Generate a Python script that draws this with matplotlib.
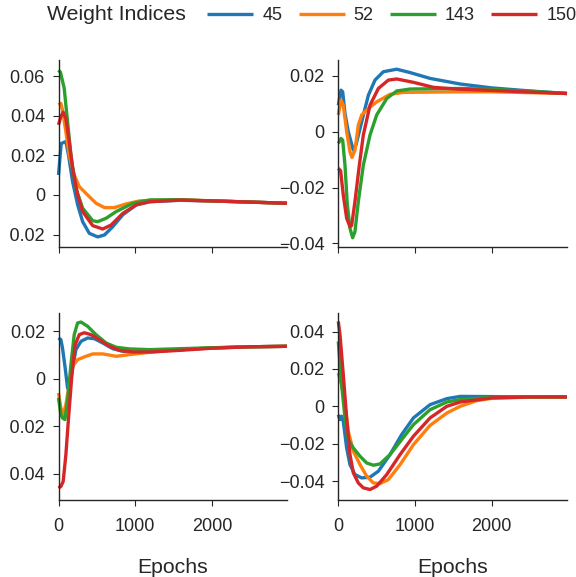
import matplotlib
matplotlib.use("Agg")
import matplotlib.pyplot as plt
from matplotlib.ticker import FixedLocator, FuncFormatter
from matplotlib.transforms import Bbox, TransformedBbox

plt.rcParams['font.family'] = ['Liberation Sans', 'DejaVu Sans']

series_labels = ['45', '52', '143', '150']
colors = ['#1f77b4', '#ff7f0e', '#2ca02c', '#d62728']
legend_title = 'Weight Indices'
x_label = 'Epochs'

# ---------------- top-left panel ----------------
tl_45_x = [0, 35, 96, 131, 184, 250, 315, 402, 511, 600, 708, 839, 1014, 1190, 1580, 2000, 2500, 2980]
tl_45_y = [0.0101, 0.026, 0.027, 0.020, 0.0067, -0.005, -0.0135, -0.0194, -0.0212, -0.0202, -0.016, -0.010,
           -0.005, -0.0034, -0.0027, -0.003, -0.0036, -0.0042]
tl_52_x = [0, 31, 52, 96, 140, 205, 271, 358, 490, 600, 730, 883, 1058, 1580, 2000, 2500, 2980]
tl_52_y = [0.0455, 0.0463, 0.043, 0.032, 0.020, 0.0101, 0.0042, 0.0008, -0.0042, -0.0064, -0.0064, -0.0045,
           -0.003, -0.0025, -0.003, -0.0036, -0.0042]
tl_143_x = [0, 25, 74, 118, 162, 227, 315, 446, 511, 620, 752, 970, 1190, 1580, 2000, 2500, 2980]
tl_143_y = [0.0631, 0.062, 0.054, 0.037, 0.020, 0.0034, -0.0067, -0.013, -0.0135, -0.0118, -0.0084, -0.0042,
            -0.0025, -0.0024, -0.003, -0.0036, -0.0042]
tl_150_x = [0, 31, 61, 96, 140, 184, 250, 315, 446, 577, 686, 839, 1014, 1190, 1580, 2000, 2500, 2980]
tl_150_y = [0.0354, 0.0396, 0.0418, 0.0387, 0.027, 0.0135, 0.0, -0.0084, -0.0155, -0.0172, -0.0152, -0.0093,
            -0.005, -0.0034, -0.0026, -0.003, -0.0036, -0.0042]

# ---------------- top-right panel ----------------
tr_45_x = [0, 35, 57, 87, 130, 196, 230, 305, 392, 478, 587, 761, 935, 1196, 1588, 2000, 2500, 2980]
tr_45_y = [0.0095, 0.0149, 0.0143, 0.0066, 0.0, -0.0066, -0.0048, 0.0036, 0.0131, 0.0185, 0.0215, 0.0224,
           0.0212, 0.0191, 0.0171, 0.0157, 0.0146, 0.0137]
tr_52_x = [0, 35, 65, 109, 152, 178, 217, 261, 305, 370, 500, 674, 848, 1588, 2000, 2500, 2980]
tr_52_y = [0.006, 0.0113, 0.0095, 0.0, -0.0072, -0.0092, -0.0066, 0.0024, 0.006, 0.0078, 0.0107, 0.0134,
           0.0141, 0.0143, 0.0143, 0.014, 0.0137]
tr_143_x = [0, 35, 57, 87, 117, 152, 187, 217, 261, 326, 413, 500, 631, 761, 935, 1588, 2000, 2500, 2980]
tr_143_y = [-0.0042, -0.0024, -0.003, -0.012, -0.026, -0.0346, -0.038, -0.0358, -0.025, -0.012, -0.0012,
            0.006, 0.0119, 0.0146, 0.0153, 0.0155, 0.0152, 0.0145, 0.0137]
tr_150_x = [0, 30, 65, 109, 152, 174, 217, 274, 326, 413, 522, 652, 761, 979, 1240, 1588, 2000, 2500, 2980]
tr_150_y = [-0.0131, -0.014, -0.0227, -0.031, -0.034, -0.0336, -0.025, -0.012, -0.0012, 0.0095, 0.0155,
            0.0185, 0.0189, 0.0177, 0.0159, 0.0152, 0.0148, 0.0142, 0.0137]

# ---------------- bottom-left panel ----------------
bl_45_x = [0, 31, 52, 87, 118, 140, 184, 227, 293, 380, 468, 577, 708, 839, 1014, 1582, 2000, 2500, 2980]
bl_45_y = [0.0171, 0.0164, 0.0129, 0.0045, -0.0039, -0.005, 0.0045, 0.0122, 0.0157, 0.0171, 0.0168, 0.015,
           0.0126, 0.0115, 0.0111, 0.0122, 0.0129, 0.0134, 0.0136]
bl_52_x = [0, 31, 61, 96, 140, 184, 249, 358, 446, 577, 752, 926, 1189, 1582, 2000, 2500, 2980]
bl_52_y = [-0.006, -0.0123, -0.015, -0.011, -0.0025, 0.0052, 0.008, 0.0094, 0.0104, 0.0104, 0.0094, 0.0101,
           0.0111, 0.0122, 0.0129, 0.0134, 0.0136]
bl_143_x = [0, 31, 52, 83, 118, 162, 205, 249, 293, 380, 489, 620, 752, 926, 1189, 1582, 2000, 2500, 2980]
bl_143_y = [-0.0081, -0.015, -0.0165, -0.0172, -0.0095, 0.0059, 0.0185, 0.0234, 0.0238, 0.022, 0.0185, 0.015,
            0.0132, 0.0125, 0.0122, 0.0126, 0.013, 0.0134, 0.0136]
bl_150_x = [0, 31, 61, 96, 131, 175, 218, 271, 336, 424, 533, 664, 795, 970, 1189, 1582, 2000, 2500, 2980]
bl_150_y = [-0.046, -0.0453, -0.0432, -0.032, -0.0165, 0.0017, 0.0143, 0.0185, 0.0193, 0.0185, 0.0164, 0.0136,
            0.0119, 0.0112, 0.0112, 0.0119, 0.0128, 0.0134, 0.0136]

# ---------------- bottom-right panel ----------------
br_45_x = [0, 22, 43, 65, 109, 152, 217, 305, 413, 522, 674, 826, 979, 1196, 1414, 1588, 2000, 2500, 2980]
br_45_y = [-0.0045, -0.0071, -0.0053, -0.008, -0.0223, -0.0312, -0.0365, -0.0383, -0.0379, -0.0347, -0.0258,
           -0.0151, -0.0062, 0.0009, 0.0041, 0.0053, 0.0052, 0.005, 0.005]
br_52_x = [0, 43, 87, 130, 196, 283, 370, 457, 544, 652, 805, 979, 1196, 1414, 1588, 1800, 2000, 2500, 2980]
br_52_y = [0.0178, 0.0116, 0.0009, -0.0134, -0.024, -0.0312, -0.0374, -0.041, -0.0413, -0.0392, -0.0312,
           -0.0205, -0.0102, -0.0036, 0.0, 0.003, 0.0043, 0.0049, 0.005]
br_143_x = [0, 43, 87, 130, 196, 283, 370, 457, 544, 674, 826, 979, 1196, 1414, 1588, 2000, 2500, 2980]
br_143_y = [0.0347, 0.0116, -0.0062, -0.0178, -0.0223, -0.0267, -0.0303, -0.0315, -0.0308, -0.0258, -0.0178,
            -0.0098, -0.0018, 0.0023, 0.0036, 0.0048, 0.005, 0.005]
br_150_x = [0, 22, 65, 109, 152, 196, 261, 326, 413, 500, 631, 805, 979, 1196, 1414, 1588, 2000, 2500, 2980]
br_150_y = [0.0454, 0.0383, 0.0169, -0.0062, -0.0258, -0.0356, -0.041, -0.0436, -0.0445, -0.0427, -0.0365,
            -0.0258, -0.016, -0.0062, 0.0, 0.0023, 0.0045, 0.005, 0.005]

x_ticks = [0, 1000, 2000]
tl_yticks = [-0.02, 0.0, 0.02, 0.04, 0.06]
tr_yticks = [-0.04, -0.02, 0.0, 0.02]
bl_yticks = [-0.04, -0.02, 0.0, 0.02]
br_yticks = [-0.04, -0.02, 0.0, 0.02, 0.04]

panels = [
    dict(xs=[tl_45_x, tl_52_x, tl_143_x, tl_150_x], ys=[tl_45_y, tl_52_y, tl_143_y, tl_150_y],
         yticks=tl_yticks, ylim=(-0.0263, 0.0682), rect=(58.5, 60, 287, 247), left=True, bottom=False),
    dict(xs=[tr_45_x, tr_52_x, tr_143_x, tr_150_x], ys=[tr_45_y, tr_52_y, tr_143_y, tr_150_y],
         yticks=tr_yticks, ylim=(-0.0413, 0.0257), rect=(338.3, 60, 567, 247), left=False, bottom=False),
    dict(xs=[bl_45_x, bl_52_x, bl_143_x, bl_150_x], ys=[bl_45_y, bl_52_y, bl_143_y, bl_150_y],
         yticks=bl_yticks, ylim=(-0.051, 0.0276), rect=(58.5, 313, 287, 500), left=True, bottom=True),
    dict(xs=[br_45_x, br_52_x, br_143_x, br_150_x], ys=[br_45_y, br_52_y, br_143_y, br_150_y],
         yticks=br_yticks, ylim=(-0.0501, 0.0499), rect=(338.3, 313, 567, 500), left=False, bottom=True),
]

W, H = 576, 577
fig = plt.figure(figsize=(W / 100, H / 100), dpi=100)
ink = '#262626'


def fmt(v, pos):
    if abs(v) < 1e-12:
        return '0'
    return f'{v:.2f}'.replace('-', '\u2212')


axes = []
lines = []
for p in panels:
    x0, y0, x1, y1 = p['rect']
    ax = fig.add_axes([x0 / W, 1 - y1 / H, (x1 - x0) / W, (y1 - y0) / H])
    for xs, ys, c, lab in zip(p['xs'], p['ys'], colors, series_labels):
        ln, = ax.plot(xs, ys, color=c, lw=2.4, label=lab, solid_capstyle='butt', clip_on=False)
        if len(lines) < 4:
            lines.append(ln)
    ax.set_xlim(0, 2980)
    ax.set_ylim(*p['ylim'])
    ax.xaxis.set_major_locator(FixedLocator(x_ticks))
    ax.yaxis.set_major_locator(FixedLocator(p['yticks']))
    ax.yaxis.set_major_formatter(FuncFormatter(fmt))
    for s in ['top', 'right']:
        ax.spines[s].set_visible(False)
    for s in ['left', 'bottom']:
        ax.spines[s].set_color(ink)
        ax.spines[s].set_linewidth(1.0)
    ax.tick_params(axis='both', length=4.3, width=0.8, color=ink, labelcolor=ink, labelsize=13)
    ax.tick_params(axis='y', pad=5.5)
    ax.tick_params(axis='x', pad=9)
    if p['bottom']:
        ax.set_xlabel(x_label, fontsize=15.3, color=ink, labelpad=16)
    else:
        ax.tick_params(axis='x', labelbottom=False)
    axes.append((ax, p))

fig.text(47 / W, 1 - 15 / H, legend_title, fontsize=15.3, color=ink, ha='left', va='center')
fig.legend(handles=lines, labels=series_labels, ncol=4, frameon=False, loc='center left',
           bbox_to_anchor=(200 / W, 1 - 16 / H), fontsize=13, handlelength=2.55, handletextpad=0.5,
           columnspacing=0.9, borderaxespad=0, labelcolor=ink)

fig.canvas.draw()
clip = TransformedBbox(Bbox([[10.0 / W, 0.0], [1.0, 1.0]]), fig.transFigure)
for ax, p in axes:
    if p['left']:
        for lbl in ax.get_yticklabels():
            lbl.set_clip_on(True)
            lbl.set_clip_box(clip)

fig.savefig('out.png', dpi=100)
